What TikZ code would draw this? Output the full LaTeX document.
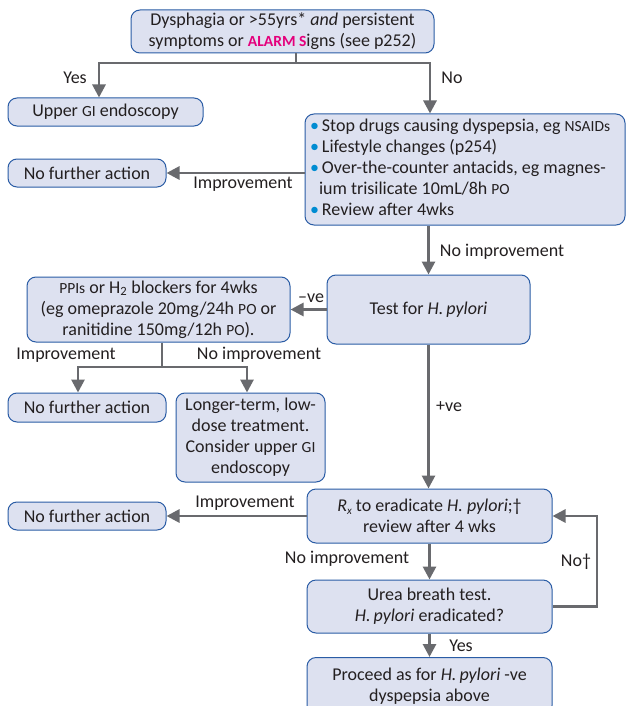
\documentclass[tikz,border=0pt]{standalone}
\usepackage{fontspec}
\setmainfont{Carlito}
\usetikzlibrary{arrows.meta,calc}
\definecolor{boxfill}{RGB}{221,225,240}
\definecolor{boxline}{RGB}{42,92,165}
\definecolor{arrcol}{RGB}{105,106,110}
\definecolor{txt}{RGB}{35,31,32}
\definecolor{alarm}{RGB}{228,0,124}
\definecolor{bulc}{RGB}{0,140,210}
\newcommand{\smc}[1]{{\fontsize{15.5}{15.5}\selectfont #1}}
\newcommand{\hp}{\textit{H.\,pylori}}
\newcommand{\bl}{\textcolor{bulc}{\textbullet}\hspace{3pt}}
\begin{document}
\begin{tikzpicture}[x=1pt,y=-1pt,
  font=\fontsize{18}{21}\selectfont\color{txt},
  flowbox/.style={draw=boxline,fill=boxfill,line width=1pt,rounded corners=9pt,
    align=center,inner sep=0pt},
  conn/.style={draw=arrcol,line width=2.8pt},
  arr/.style={conn,-{Triangle[length=13pt,width=13pt]}},
  lbl/.style={inner sep=0pt,font=\fontsize{18}{21}\selectfont\color{txt}}]
\clip (0,0) rectangle (626,706);
\fill[white] (0,0) rectangle (626,706);

% nodes
\node[flowbox,minimum width=303,minimum height=43] (top) at (282.5,31.5)
  {Dysphagia or {>}55yrs* \textit{and} persistent\\symptoms or {\color{alarm}\bfseries\fontsize{15.5}{15.5}\selectfont ALARM S}igns (see p252)};
\node[flowbox,minimum width=195,minimum height=28] (endo) at (105.5,112)
  {Upper \smc{GI} endoscopy};
\node[flowbox,minimum width=158,minimum height=28] (nfa1) at (87,173)
  {No further action};
\node[flowbox,minimum width=320,minimum height=111] (bul) at (465,169.5)
  {\begin{tabular}{@{}p{310pt}@{}}
   \bl Stop drugs causing dyspepsia, eg \smc{NSAIDs}\\
   \bl Lifestyle changes (p254)\\
   \bl Over-the-counter antacids, eg magnes-\\
   \hspace{9pt}ium trisilicate 10mL/8h \smc{PO}\\
   \bl Review after 4wks
   \end{tabular}};
\node[flowbox,minimum width=203,minimum height=69] (test) at (428.5,309.5)
  {Test for \hp};
\node[flowbox,minimum width=263,minimum height=65] (ppi) at (158.5,309.5)
  {\smc{PPIs} or H\textsubscript{2} blockers for 4wks\\(eg omeprazole 20mg/24h \smc{PO} or\\ranitidine 150mg/12h \smc{PO}).};
\node[flowbox,minimum width=158,minimum height=29] (nfa2) at (87,407.5)
  {No further action};
\node[flowbox,minimum width=149,minimum height=89] (long) at (250.5,437.5)
  {Longer-term, low-\\dose treatment.\\Consider upper \smc{GI}\\endoscopy};
\node[flowbox,minimum width=245,minimum height=54] (rx) at (429.5,516)
  {{\itshape R\raisebox{-3pt}{\fontsize{11}{11}\selectfont x}} to eradicate \textit{H. pylori};\textdagger\\review after 4 wks};
\node[flowbox,minimum width=158,minimum height=28] (nfa3) at (87,516)
  {No further action};
\node[flowbox,minimum width=245,minimum height=53] (urea) at (429.5,606.5)
  {Urea breath test.\\\hp{} eradicated?};
\node[flowbox,minimum width=245,minimum height=57,anchor=north] (proc) at (429.5,657)
  {Proceed as for \hp{} -ve\\dyspepsia above};

% connectors
\coordinate (j1) at (296,63);
\coordinate (xyes) at (99,0);
\coordinate (xno) at (430,0);
\draw[conn] (top.south -| j1) -- (j1);
\draw[arr] (j1) -| (endo.north -| xyes);
\draw[arr] (j1) -| (bul.north -| xno);
\draw[arr] (bul.west |- nfa1.east) -- (nfa1.east);
\draw[arr] (bul.south -| test.north) -- (test.north);
\draw[arr] (test.west) -- (ppi.east);
\coordinate (j2) at (162,367);
\coordinate (xl) at (78,0);
\coordinate (xr) at (247,0);
\draw[conn] (ppi.south -| j2) -- (j2);
\draw[arr] (j2) -| (nfa2.north -| xl);
\draw[arr] (j2) -| (long.north -| xr);
\draw[arr] (test.south) -- (rx.north -| test.south);
\draw[arr] (rx.west) -- (nfa3.east);
\draw[arr] (rx.south) -- (urea.north);
\coordinate (loop) at (597,0);
\draw[arr] (urea.east) -| (loop |- urea.east) |- (rx.east);
\draw[arr] (urea.south) -- (proc.north);

% labels
\node[lbl] (l1) at (75,78) {Yes};
\node[lbl] (l2) at (452,78) {No};
\node[lbl] (l3) at (243,184) {Improvement};
\node[lbl] (l4) at (502,252) {No improvement};
\node[lbl] (l5) at (311,298) {--ve};
\node[lbl] (l6) at (66,355) {Improvement};
\node[lbl] (l7) at (259,355) {No improvement};
\node[lbl] (l8) at (449,407) {+ve};
\node[lbl] (l9) at (245,503) {Improvement};
\node[lbl] (l10) at (347,559) {No improvement};
\node[lbl] (l11) at (576,562) {No\textdagger};
\node[lbl] (l12) at (461,646) {Yes};
\end{tikzpicture}
\end{document}
